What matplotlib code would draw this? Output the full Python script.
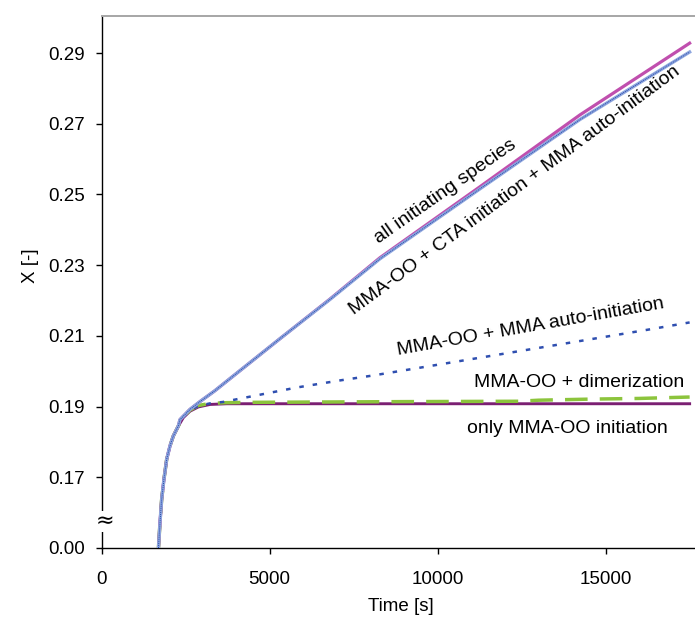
import numpy as np
import matplotlib
matplotlib.use('Agg')
from matplotlib import pyplot as plt

plt.rcParams['font.family'] = ['Liberation Sans', 'DejaVu Sans']

# start-up part, shared by every case (time in s, conversion X)
t_rise = [1690, 1735, 1785, 1853, 1935, 2034, 2133, 2282]
x_rise = [0.0, 0.060, 0.1165, 0.1649, 0.1751, 0.1789, 0.1817, 0.1845]

# only MMA-OO initiation
t_oo = [2431, 2630, 2877, 3225, 3721, 4117, 8000, 12000, 17500]
x_oo = [0.1869, 0.1887, 0.1899, 0.1906, 0.1908, 0.1908, 0.1908, 0.1908, 0.1908]

# MMA-OO + dimerization
t_dim = [2431, 2630, 2877, 3225, 3721, 4500, 9000, 12400, 13000, 14500, 16000, 17500]
x_dim = [0.1870, 0.1890, 0.1903, 0.1909, 0.1911, 0.1912, 0.1914, 0.1915, 0.1918, 0.1921,
         0.1923, 0.1927]

# MMA-OO + MMA auto-initiation
t_auto = [2431, 2630, 2877, 3225, 3610, 4413, 5811, 7094, 8080, 8970, 16290, 17500]
x_auto = [0.1870, 0.1890, 0.1902, 0.1909, 0.1913, 0.1928, 0.1954, 0.1974, 0.1988, 0.2002,
          0.2118, 0.2138]

# MMA-OO + CTA initiation + MMA auto-initiation
t_cta = [2330, 2628, 2925, 3372, 3818, 5306, 6794, 8282, 11261, 14234, 17500]
x_cta = [0.1863, 0.1892, 0.1914, 0.1945, 0.1979, 0.2092, 0.2203, 0.2318, 0.2516, 0.2712,
         0.2903]

# all initiating species
t_all = [2330, 2628, 2925, 3372, 3818, 5306, 6794, 8282, 11261, 14234, 17500]
x_all = [0.1863, 0.1892, 0.1914, 0.1945, 0.1979, 0.2092, 0.2204, 0.2321, 0.2522, 0.2725,
         0.2928]

y_ticks = [0.00, 0.17, 0.19, 0.21, 0.23, 0.25, 0.27, 0.29]
x_ticks = [0, 5000, 10000, 15000]


def fwd(v):
    # squeeze 0 .. 0.17 into the bottom band below the break
    v = np.asarray(v, dtype=float)
    return np.where(v < 0.17, 0.15 + v * (0.02 / 0.17), v)


def inv(d):
    d = np.asarray(d, dtype=float)
    return np.where(d < 0.17, (d - 0.15) * (0.17 / 0.02), d)


def with_rise(t, x):
    return t_rise + t, x_rise + x


fig = plt.figure(figsize=(6.95, 6.21), dpi=100)
ax = fig.add_axes([0.1463, 0.1176, 0.8537, 0.8567])
ax.set_yscale('function', functions=(fwd, inv))

t, x = with_rise(t_oo, x_oo)
ax.plot(t, x, color='#7b1f72', lw=2.1, zorder=3)
t, x = with_rise(t_dim, x_dim)
ax.plot(t, x, color='#8cc43c', lw=2.5, dashes=(6.5, 3.5), zorder=4)
t, x = with_rise(t_auto, x_auto)
ax.plot(t, x, color='#2f4fb0', lw=1.8, dashes=(1.8, 3.6), zorder=4)
t, x = with_rise(t_all, x_all)
ax.plot(t, x, color='#c04fae', lw=2.3, zorder=5)
t, x = with_rise(t_cta, x_cta)
ax.plot(t, x, color='#8ea6de', lw=2.4, zorder=6)
ax.plot(t, x, color='#2848a8', lw=0.7, dashes=(1, 1), zorder=7)

ax.set_xlim(0, 17660)
ax.set_ylim(0, 0.3005)
ax.set_xticks(x_ticks)
ax.set_yticks(y_ticks)
ax.set_yticklabels(['%.2f' % v for v in y_ticks])
ax.minorticks_off()

ax.spines['right'].set_visible(False)
ax.spines['top'].set_color('#a6a6a6')
ax.spines['top'].set_linewidth(1.4)
for s in ['left', 'bottom']:
    ax.spines[s].set_linewidth(1.0)
ax.tick_params(direction='out', length=4.3, width=1.0, labelsize=13.5)
ax.tick_params(axis='y', pad=8)
ax.tick_params(axis='x', pad=12)

ax.set_ylabel('X [-]', fontsize=13.5)
ax.yaxis.set_label_coords(-0.106, 0.53)
ax.set_xlabel('Time [s]', fontsize=13.5)
ax.xaxis.set_label_coords(0.5045, -0.094)

# axis break mark on the y spine
ax.text(100, 0.05, '\u2248', transform=ax.get_xaxis_transform(), fontsize=16,
        ha='center', va='center', family=['DejaVu Sans'],
        bbox=dict(facecolor='white', edgecolor='none', pad=0.3), zorder=8)

ax.text(10217, 0.2508, 'all initiating species', fontsize=14, rotation=35,
        ha='center', va='center', rotation_mode='anchor')
ax.text(12300, 0.2511, 'MMA-OO + CTA initiation + MMA auto-initiation', fontsize=14,
        rotation=36.5, ha='center', va='center', rotation_mode='anchor')
ax.text(12776, 0.2124, 'MMA-OO + MMA auto-initiation', fontsize=14, rotation=10,
        ha='center', va='center', rotation_mode='anchor')
ax.text(14210, 0.1969, 'MMA-OO + dimerization', fontsize=14, ha='center', va='center')
ax.text(13848, 0.1838, 'only MMA-OO initiation', fontsize=14, ha='center', va='center')

fig.savefig('out.png', dpi=100)
